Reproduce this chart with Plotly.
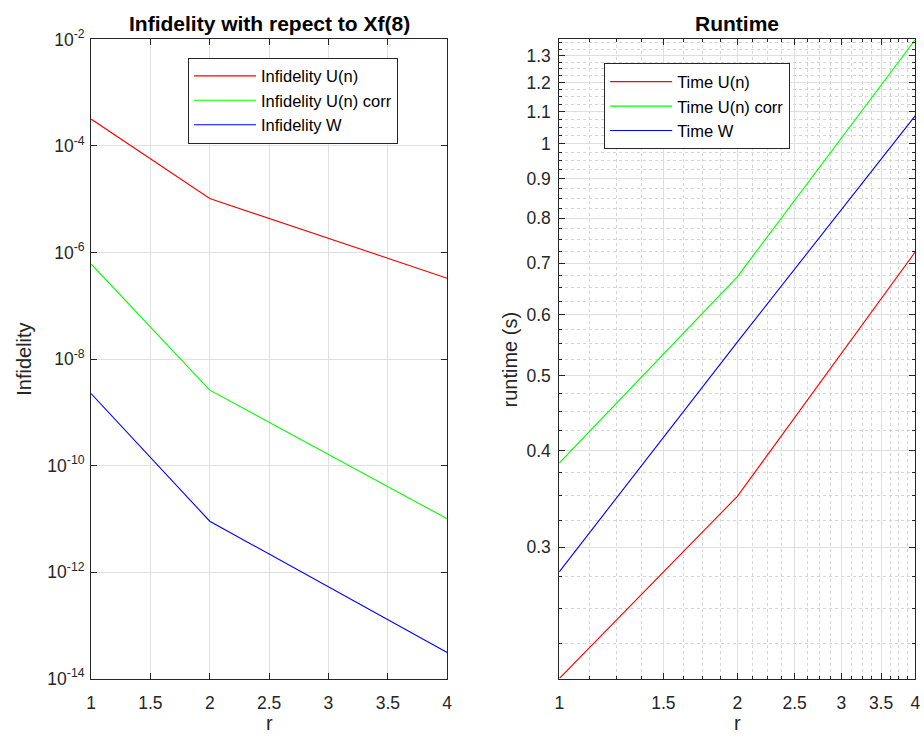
import math
import plotly.graph_objects as go

# ---- data ----
r = [1, 2, 4]
inf_un = [3.2e-4, 1.03e-5, 3.3e-7]
inf_un_corr = [6.1e-7, 2.6e-9, 1.0e-11]
inf_w = [2.25e-9, 9.0e-12, 3.1e-14]

time_un = [0.2027, 0.349, 0.724]
time_un_corr = [0.3855, 0.672, 1.364]
time_w = [0.2787, 0.553, 1.087]

left_yticks = [1e-14, 1e-12, 1e-10, 1e-8, 1e-6, 1e-4, 1e-2]
left_ytext = ["10<sup>-14</sup>", "10<sup>-12</sup>", "10<sup>-10</sup>", "10<sup>-8</sup>",
              "10<sup>-6</sup>", "10<sup>-4</sup>", "10<sup>-2</sup>"]
left_xticks = [1, 1.5, 2, 2.5, 3, 3.5, 4]
right_xticks = [1, 1.5, 2, 2.5, 3, 3.5, 4]
right_yticks = [0.3, 0.4, 0.5, 0.6, 0.7, 0.8, 0.9, 1, 1.1, 1.2, 1.3]

RED, GREEN, BLUE = "#ff0000", "#00ff00", "#0000ff"
FONT = "Liberation Sans, Arial, sans-serif"
AX = "#262626"
GRID = "#dfdfdf"
MGRID = "#d4d4d4"

fig = go.Figure()
fig.add_trace(go.Scatter(x=r, y=inf_un, mode="lines", name="Infidelity U(n)",
                         line=dict(color=RED, width=1.1), xaxis="x", yaxis="y", legend="legend"))
fig.add_trace(go.Scatter(x=r, y=inf_un_corr, mode="lines", name="Infidelity U(n) corr",
                         line=dict(color=GREEN, width=1.1), xaxis="x", yaxis="y", legend="legend"))
fig.add_trace(go.Scatter(x=r, y=inf_w, mode="lines", name="Infidelity W",
                         line=dict(color=BLUE, width=1.1), xaxis="x", yaxis="y", legend="legend"))

fig.add_trace(go.Scatter(x=r, y=time_un, mode="lines", name="Time U(n)",
                         line=dict(color=RED, width=1.1), xaxis="x2", yaxis="y2", legend="legend2"))
fig.add_trace(go.Scatter(x=r, y=time_un_corr, mode="lines", name="Time U(n) corr",
                         line=dict(color=GREEN, width=1.1), xaxis="x2", yaxis="y2", legend="legend2"))
fig.add_trace(go.Scatter(x=r, y=time_w, mode="lines", name="Time W",
                         line=dict(color=BLUE, width=1.1), xaxis="x2", yaxis="y2", legend="legend2"))

all_t = time_un + time_un_corr + time_w

common = dict(showline=True, linecolor=AX, linewidth=1, mirror="ticks", ticks="inside",
              tickcolor=AX, ticklen=6, tickfont=dict(family=FONT, size=17.5, color=AX),
              showgrid=True, gridcolor=GRID, gridwidth=1, zeroline=False)

W, H = 924, 747
ytop = 1 - 28.3 / H
ybot = 1 - 686.8 / H

minor_style = dict(ticks="inside", ticklen=3, tickcolor=AX,
                   showgrid=True, gridcolor=MGRID, griddash="dot", gridwidth=1)

fig.update_layout(
    width=W, height=H,
    margin=dict(l=0, r=0, t=0, b=0),
    paper_bgcolor="white", plot_bgcolor="white",
    font=dict(family=FONT, color=AX),
    xaxis=dict(domain=[87 / W, 447 / W], range=[1, 4], tickvals=left_xticks,
               ticktext=[f"{v:g}" for v in left_xticks], anchor="y",
               ticklabelstandoff=8, **common),
    yaxis=dict(domain=[ybot, ytop], type="log", range=[-14, -2], tickvals=left_yticks,
               ticktext=left_ytext, anchor="x", ticklabelstandoff=2, **common),
    xaxis2=dict(domain=[560.3 / W, 920.3 / W], type="log", range=[0, math.log10(4)],
                tickvals=right_xticks, ticktext=[f"{v:g}" for v in right_xticks], anchor="y2",
                minor=dict(dtick="L0.125", tick0=0, **minor_style),
                ticklabelstandoff=8, **common),
    yaxis2=dict(domain=[ybot, ytop], type="log",
                range=[math.log10(min(all_t)), math.log10(max(all_t))],
                tickvals=right_yticks, ticktext=[f"{v:g}" for v in right_yticks], anchor="x2",
                minor=dict(dtick="L0.025", tick0=0, **minor_style),
                ticklabelstandoff=4, **common),
    legend=dict(x=185 / W, y=1 - 47 / H, xanchor="left", yanchor="top",
                bgcolor="white", bordercolor=AX, borderwidth=1, itemwidth=62,
                font=dict(family=FONT, size=16.5, color="black")),
    legend2=dict(x=605.7 / W, y=1 - 53 / H, xanchor="left", yanchor="top",
                 bgcolor="white", bordercolor=AX, borderwidth=1, itemwidth=62,
                 font=dict(family=FONT, size=16.5, color="black")),
    showlegend=True,
    annotations=[
        dict(text="<b>Infidelity with repect to Xf(8)</b>", x=(87 + 447) / 2 / W, y=1 - 12 / H,
             xref="paper", yref="paper", xanchor="center", yanchor="middle", showarrow=False,
             font=dict(family=FONT, size=21, color="black")),
        dict(text="<b>Runtime</b>", x=(560.3 + 920.3) / 2 / W, y=1 - 12 / H,
             xref="paper", yref="paper", xanchor="center", yanchor="middle", showarrow=False,
             font=dict(family=FONT, size=21, color="black")),
        dict(text="Infidelity", x=19 / W, y=1 - 357.5 / H, textangle=-90,
             xref="paper", yref="paper", xanchor="center", yanchor="middle", showarrow=False,
             font=dict(family=FONT, size=20, color=AX)),
        dict(text="runtime (s)", x=510 / W, y=1 - 357.5 / H, textangle=-90,
             xref="paper", yref="paper", xanchor="center", yanchor="middle", showarrow=False,
             font=dict(family=FONT, size=20, color=AX)),
        dict(text="r", x=267 / W, y=1 - 733 / H,
             xref="paper", yref="paper", xanchor="center", yanchor="middle", showarrow=False,
             font=dict(family=FONT, size=20, color=AX)),
        dict(text="r", x=740.3 / W, y=1 - 733 / H,
             xref="paper", yref="paper", xanchor="center", yanchor="middle", showarrow=False,
             font=dict(family=FONT, size=20, color=AX)),
    ],
)

fig.write_html("out.html",
               post_script="document.body.style.margin='0px';document.body.style.overflow='hidden';")
